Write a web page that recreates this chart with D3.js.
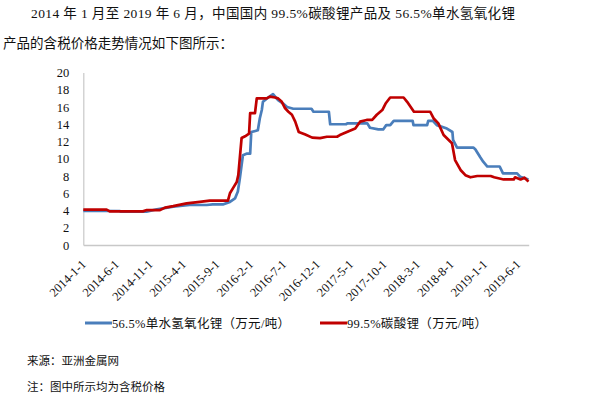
<!DOCTYPE html>
<html lang="zh">
<head>
<meta charset="UTF-8">
<title>碳酸锂与单水氢氧化锂含税价格走势</title>
<script src="https://cdn.jsdelivr.net/npm/d3@7"></script>
<style>
  body { margin: 0; background: #fff; }
  svg text { font-family: "Liberation Serif", "Noto Sans CJK SC", serif; fill: #111; }
</style>
</head>
<body>
<script>
// 56.5% lithium hydroxide monohydrate, wan yuan / t
var hydroxideDates = ["2014-01-01","2014-06-15","2014-06-20","2014-10-16","2014-12-02","2015-02-14","2015-04-30",
  "2015-07-16","2015-08-13","2015-09-28","2015-10-30","2015-11-22","2015-12-05","2015-12-14","2015-12-28",
  "2016-01-16","2016-01-30","2016-02-04","2016-03-05","2016-03-14","2016-03-23","2016-03-28","2016-04-16",
  "2016-05-08","2016-05-13","2016-06-05","2016-06-28","2016-07-16","2016-08-13","2016-11-04","2016-11-13",
  "2017-01-22","2017-01-28","2017-04-10","2017-04-16","2017-07-16","2017-07-28","2017-09-04","2017-09-26",
  "2017-10-10","2017-10-28","2017-11-13","2018-02-07","2018-02-11","2018-04-14","2018-04-19","2018-05-10",
  "2018-05-28","2018-07-13","2018-08-07","2018-08-10","2018-08-28","2018-11-10","2018-11-19","2018-12-11",
  "2018-12-25","2019-01-13","2019-03-10","2019-03-25","2019-05-28","2019-06-12","2019-07-19"];
var hydroxideValues = [3.95,3.94,3.87,3.87,4.14,4.44,4.64,
  4.64,4.7,4.7,5.0,5.4,6.2,7.7,10.4,
  10.6,10.6,13.1,13.3,14.7,15.65,16.6,17.0,
  17.4,17.5,16.8,16.4,16.0,15.8,15.8,15.45,
  15.45,14.0,14.0,14.1,14.1,13.6,13.4,13.4,
  13.9,13.9,14.4,14.4,13.9,13.9,14.4,14.4,
  13.9,13.5,13.1,12.2,11.3,11.3,11.1,10.2,
  9.66,9.1,9.1,8.3,8.3,7.9,7.6];

// 99.5% lithium carbonate, wan yuan / t
var carbonateDates = ["2014-01-01","2014-04-17","2014-05-01","2014-09-29","2014-10-17","2014-12-16","2015-01-08",
  "2015-02-14","2015-04-16","2015-06-15","2015-07-30","2015-10-21","2015-10-30","2015-11-13","2015-11-30",
  "2015-12-07","2015-12-22","2016-01-07","2016-01-25","2016-01-30","2016-02-21","2016-02-29","2016-04-14",
  "2016-04-29","2016-05-22","2016-06-05","2016-06-22","2016-07-07","2016-07-22","2016-08-07","2016-08-22",
  "2016-09-07","2016-10-07","2016-11-07","2016-12-13","2017-01-13","2017-02-28","2017-03-13","2017-04-22",
  "2017-05-22","2017-06-13","2017-07-13","2017-08-07","2017-08-28","2017-09-22","2017-10-07","2017-10-28",
  "2017-12-28","2018-01-13","2018-02-13","2018-04-28","2018-05-13","2018-06-04","2018-06-28","2018-08-05",
  "2018-08-19","2018-09-13","2018-10-05","2018-10-28","2018-11-28","2019-01-28","2019-02-13","2019-03-28",
  "2019-05-13","2019-05-19","2019-06-13","2019-07-01","2019-07-19"];
var carbonateValues = [4.1,4.1,3.9,3.9,4.05,4.05,4.33,
  4.5,4.83,5.0,5.14,5.15,6.0,6.6,7.3,
  8.1,12.4,12.6,12.9,15.3,15.3,17.0,17.0,
  17.2,17.1,17.0,16.6,15.85,15.45,15.1,14.3,
  13.1,12.8,12.45,12.4,12.55,12.55,12.75,13.2,
  13.5,14.3,14.5,14.5,15.1,15.65,16.4,17.1,
  17.1,16.6,15.45,15.45,14.7,14.1,12.75,11.8,
  9.85,8.7,8.1,7.85,8.0,8.0,7.85,7.6,
  7.6,7.85,7.6,7.8,7.35];

var xTickLabels = ["2014-1-1","2014-6-1","2014-11-1","2015-4-1","2015-9-1","2016-2-1","2016-7-1",
  "2016-12-1","2017-5-1","2017-10-1","2018-3-1","2018-8-1","2019-1-1","2019-6-1"];
var yTicks = [0,2,4,6,8,10,12,14,16,18,20];

var parse = d3.timeParse("%Y-%m-%d");

var svg = d3.select("body").append("svg").attr("width", 597).attr("height", 395);

// intro paragraph
svg.append("text").attr("x", 31).attr("y", 18).attr("font-size", 13.5)
  .attr("textLength", 484).attr("lengthAdjust", "spacing")
  .text("2014 年 1 月至 2019 年 6 月，中国国内 99.5%碳酸锂产品及 56.5%单水氢氧化锂");
svg.append("text").attr("x", 3).attr("y", 48).attr("font-size", 13.5)
  .attr("textLength", 230).attr("lengthAdjust", "spacing")
  .text("产品的含税价格走势情况如下图所示：");

var x = d3.scaleTime()
  .domain([parse("2014-01-01"), parse("2019-07-20")])
  .range([83.3, 528.7]);
var y = d3.scaleLinear().domain([0, 20]).range([245, 72.5]);

// y axis
var yAxis = svg.append("g").attr("transform", "translate(83.3,0)")
  .call(d3.axisLeft(y).tickValues(yTicks).tickSize(0).tickPadding(14).tickFormat(d3.format("d")));
yAxis.select(".domain").attr("stroke", "#c8c8c8").attr("stroke-width", 1.2);
yAxis.selectAll("text").attr("font-size", 12.5).attr("font-family", "Liberation Serif").attr("fill", "#111");

// x axis
var xAxis = svg.append("g").attr("transform", "translate(0,245)")
  .call(d3.axisBottom(x).tickValues(xTickLabels.map(parse)).tickSize(0)
    .tickFormat(d3.timeFormat("%Y-%-m-%-d")));
xAxis.select(".domain").attr("stroke", "#c8c8c8").attr("stroke-width", 1.5);
xAxis.selectAll("text")
  .attr("font-size", 12.5).attr("font-family", "Liberation Serif").attr("fill", "#111")
  .attr("text-anchor", "end")
  .attr("y", 0).attr("dy", 0)
  .attr("transform", "translate(3,20) rotate(-45)");

var line = d3.line()
  .x(function(d) { return x(d[0]); })
  .y(function(d) { return y(d[1]); });

var hydroxide = hydroxideDates.map(function(d, i) { return [parse(d), hydroxideValues[i]]; });
var carbonate = carbonateDates.map(function(d, i) { return [parse(d), carbonateValues[i]]; });

svg.append("path").datum(hydroxide).attr("d", line)
  .attr("fill", "none").attr("stroke", "#4a7ebb").attr("stroke-width", 2.7).attr("stroke-linejoin", "round");
svg.append("path").datum(carbonate).attr("d", line)
  .attr("fill", "none").attr("stroke", "#c00000").attr("stroke-width", 2.7).attr("stroke-linejoin", "round");

// legend
var legend = [
  {name: "56.5%单水氢氧化锂（万元/吨）", color: "#4a7ebb", x: 85, w: 178},
  {name: "99.5%碳酸锂（万元/吨）", color: "#c00000", x: 320, w: 140}
];
legend.forEach(function(l) {
  svg.append("line").attr("x1", l.x).attr("x2", l.x + 27).attr("y1", 323).attr("y2", 323)
    .attr("stroke", l.color).attr("stroke-width", 3);
  svg.append("text").attr("x", l.x + 27).attr("y", 327.5).attr("font-size", 12.5)
    .attr("textLength", l.w).attr("lengthAdjust", "spacing").text(l.name);
});

// notes
svg.append("text").attr("x", 27).attr("y", 365).attr("font-size", 11.5).text("来源：亚洲金属网");
svg.append("text").attr("x", 27).attr("y", 391).attr("font-size", 11.5).text("注：图中所示均为含税价格");
</script>
</body>
</html>
